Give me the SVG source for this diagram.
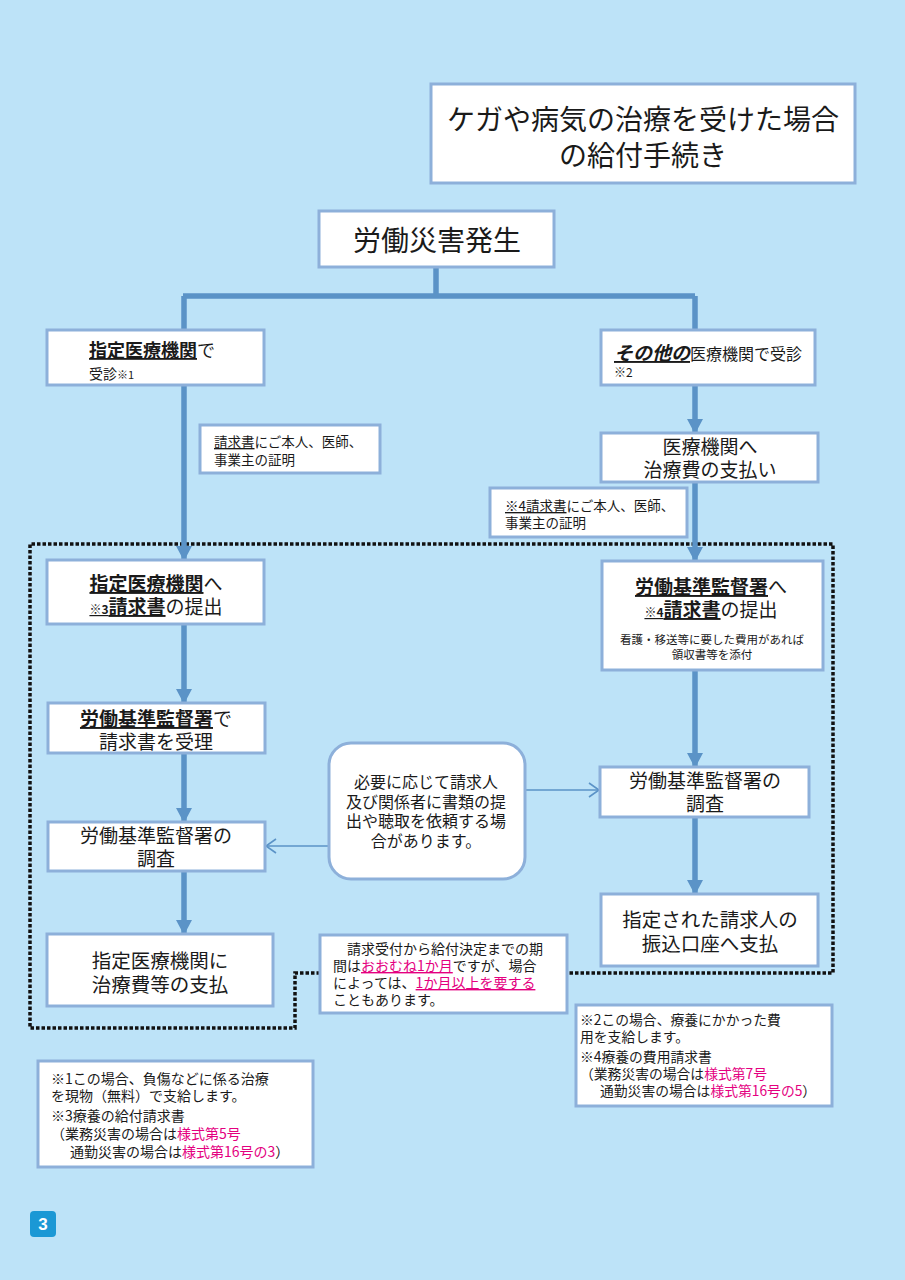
<svg xmlns="http://www.w3.org/2000/svg" width="905" height="1280" viewBox="0 0 905 1280">
<style>
text{font-family:"Noto Sans CJK JP","Noto Sans",sans-serif;fill:#1a1a1a}
.box{fill:#fff;stroke:#8db0da;stroke-width:3}
.c{text-anchor:middle}
.u{font-weight:bold;text-decoration:underline}
.pk{fill:#e4007f}
.pku{fill:#e4007f;text-decoration:underline}
.line{stroke:#5b93c7;stroke-width:5.5;fill:none}
.thin{stroke:#5b93c7;stroke-width:1.6;fill:none}
.dot{stroke:#111;stroke-width:3.5;fill:none;stroke-dasharray:3.5 2}
</style>
<defs>
<marker id="tri" markerUnits="userSpaceOnUse" markerWidth="16" markerHeight="16" refX="14" refY="8" orient="auto">
<path d="M0,0 L15,8 L0,16 z" fill="#5b93c7"/>
</marker>
<marker id="open" markerUnits="userSpaceOnUse" markerWidth="14" markerHeight="16" refX="11" refY="8" orient="auto">
<path d="M1,1 L11,8 L1,15" fill="none" stroke="#5b93c7" stroke-width="1.6"/>
</marker>
</defs>
<rect width="905" height="1280" fill="#bde3f8"/>

<path class="dot" d="M320,973 H295 V1028 H30 V544 H833 V973 H568"/>

<g id="connectors">
<path class="line" d="M436,267 V296 M183,296 H695 M184,296 V331 M695,296 V331"/>
<line class="line" x1="184" y1="386" x2="184" y2="560" marker-end="url(#tri)"/>
<line class="line" x1="184" y1="624" x2="184" y2="703" marker-end="url(#tri)"/>
<line class="line" x1="184" y1="753" x2="184" y2="822" marker-end="url(#tri)"/>
<line class="line" x1="184" y1="871" x2="184" y2="934" marker-end="url(#tri)"/>
<line class="line" x1="695" y1="385" x2="695" y2="433" marker-end="url(#tri)"/>
<line class="line" x1="695" y1="482" x2="695" y2="561" marker-end="url(#tri)"/>
<line class="line" x1="695" y1="670" x2="695" y2="767" marker-end="url(#tri)"/>
<line class="line" x1="695" y1="817" x2="695" y2="894" marker-end="url(#tri)"/>
<line class="thin" x1="329" y1="846" x2="266" y2="846" marker-end="url(#open)"/>
<line class="thin" x1="525" y1="790" x2="599" y2="790" marker-end="url(#open)"/>
</g>

<g id="title">
<rect class="box" x="431" y="84" width="424" height="99"/>
<text class="c" font-size="28"><tspan x="643" y="130">ケガや病気の治療を受けた場合</tspan><tspan x="643" y="166">の給付手続き</tspan></text>
</g>

<g id="n-start">
<rect class="box" x="319" y="211" width="235" height="56"/>
<text class="c" x="437" y="251" font-size="28">労働災害発生</text>
</g>

<g id="n-left1">
<rect class="box" x="47" y="330" width="217" height="55"/>
<text font-size="18"><tspan x="89" y="357"><tspan class="u">指定医療機関</tspan>で</tspan><tspan x="89" y="379" font-size="14">受診<tspan font-size="11">※1</tspan></tspan></text>
</g>

<g id="note-left">
<rect class="box" x="200" y="425" width="180" height="48" stroke-width="2"/>
<text font-size="13.5"><tspan x="214" y="447"><tspan text-decoration="underline">請求書</tspan>にご本人、医師、</tspan><tspan x="214" y="465">事業主の証明</tspan></text>
</g>

<g id="n-left2">
<rect class="box" x="47" y="560" width="217" height="64"/>
<text class="c" font-size="19"><tspan x="156" y="591"><tspan class="u">指定医療機関</tspan>へ</tspan><tspan x="156" y="614"><tspan class="u"><tspan font-size="12">※3</tspan>請求書</tspan>の提出</tspan></text>
</g>

<g id="n-left3">
<rect class="box" x="48" y="703" width="217" height="50"/>
<text class="c" font-size="19"><tspan x="156" y="726"><tspan class="u">労働基準監督署</tspan>で</tspan><tspan x="156" y="749">請求書を受理</tspan></text>
</g>

<g id="n-left4">
<rect class="box" x="48" y="822" width="217" height="49"/>
<text class="c" font-size="19"><tspan x="156" y="843">労働基準監督署の</tspan><tspan x="156" y="866">調査</tspan></text>
</g>

<g id="n-left5">
<rect class="box" x="47" y="934" width="226" height="72"/>
<text class="c" font-size="19.5"><tspan x="160" y="968">指定医療機関に</tspan><tspan x="160" y="992">治療費等の支払</tspan></text>
</g>

<g id="n-right1">
<rect class="box" x="601" y="330" width="214" height="55"/>
<text font-size="16"><tspan x="614" y="360"><tspan class="u" font-size="19" font-style="italic">その他の</tspan>医療機関で受診</tspan><tspan x="614" y="377" font-size="12">※2</tspan></text>
</g>

<g id="n-right2">
<rect class="box" x="601" y="433" width="217" height="49"/>
<text class="c" font-size="19"><tspan x="710" y="454">医療機関へ</tspan><tspan x="710" y="477">治療費の支払い</tspan></text>
</g>

<g id="note-right">
<rect class="box" x="490" y="488" width="197" height="49" stroke-width="2"/>
<text font-size="13.5"><tspan x="505" y="511"><tspan text-decoration="underline">※4請求書</tspan>にご本人、医師、</tspan><tspan x="505" y="528">事業主の証明</tspan></text>
</g>

<g id="n-right3">
<rect class="box" x="602" y="561" width="221" height="109"/>
<text class="c" font-size="19"><tspan x="711" y="594"><tspan class="u">労働基準監督署</tspan>へ</tspan><tspan x="711" y="617"><tspan class="u"><tspan font-size="12">※4</tspan>請求書</tspan>の提出</tspan><tspan x="712" y="644" font-size="11.5">看護・移送等に要した費用があれば</tspan><tspan x="712" y="659" font-size="11.5">領収書等を添付</tspan></text>
</g>

<g id="n-mid">
<rect class="box" x="329" y="743" width="196" height="136" rx="22"/>
<text class="c" font-size="16"><tspan x="426" y="788">必要に応じて請求人</tspan><tspan x="426" y="807.5">及び関係者に書類の提</tspan><tspan x="426" y="827">出や聴取を依頼する場</tspan><tspan x="426" y="846.5">合があります。</tspan></text>
</g>

<g id="n-right4">
<rect class="box" x="600" y="767" width="209" height="50"/>
<text class="c" font-size="19"><tspan x="705" y="788">労働基準監督署の</tspan><tspan x="705" y="811">調査</tspan></text>
</g>

<g id="n-right5">
<rect class="box" x="601" y="894" width="217" height="72"/>
<text class="c" font-size="19.5"><tspan x="710" y="927">指定された請求人の</tspan><tspan x="710" y="951">振込口座へ支払</tspan></text>
</g>

<g id="notice">
<rect class="box" x="320" y="935" width="247" height="78" stroke-width="2"/>
<text font-size="14"><tspan x="333" y="954">　請求受付から給付決定までの期</tspan><tspan x="333" y="971">間は<tspan class="pku">おおむね1か月</tspan>ですが、場合</tspan><tspan x="333" y="988">によっては、<tspan class="pku">1か月以上を要する</tspan></tspan><tspan x="333" y="1005">こともあります。</tspan></text>
</g>

<g id="notes-left">
<rect class="box" x="38" y="1061" width="275" height="106" stroke-width="2"/>
<text font-size="14"><tspan x="51" y="1084">※1この場合、負傷などに係る治療</tspan><tspan x="51" y="1101">を現物（無料）で支給します。</tspan><tspan x="51" y="1121">※3療養の給付請求書</tspan><tspan x="51" y="1139">（業務災害の場合は<tspan class="pk">様式第5号</tspan></tspan><tspan x="70" y="1157">通勤災害の場合は<tspan class="pk">様式第16号の3</tspan>）</tspan></text>
</g>

<g id="notes-right">
<rect class="box" x="576" y="1005" width="256" height="101" stroke-width="2"/>
<text font-size="13.8"><tspan x="580" y="1025">※2この場合、療養にかかった費</tspan><tspan x="580" y="1042">用を支給します。</tspan><tspan x="580" y="1062">※4療養の費用請求書</tspan><tspan x="580" y="1079">（業務災害の場合は<tspan class="pk">様式第7号</tspan></tspan><tspan x="600" y="1096">通勤災害の場合は<tspan class="pk">様式第16号の5</tspan>）</tspan></text>
</g>

<g id="page">
<rect x="30" y="1211" width="26" height="26" rx="4" fill="#1b98d5"/>
<text class="c" x="43" y="1230" style="fill:#fff;font-family:'Liberation Sans',sans-serif;font-weight:bold;font-size:17px">3</text>
</g>
</svg>
